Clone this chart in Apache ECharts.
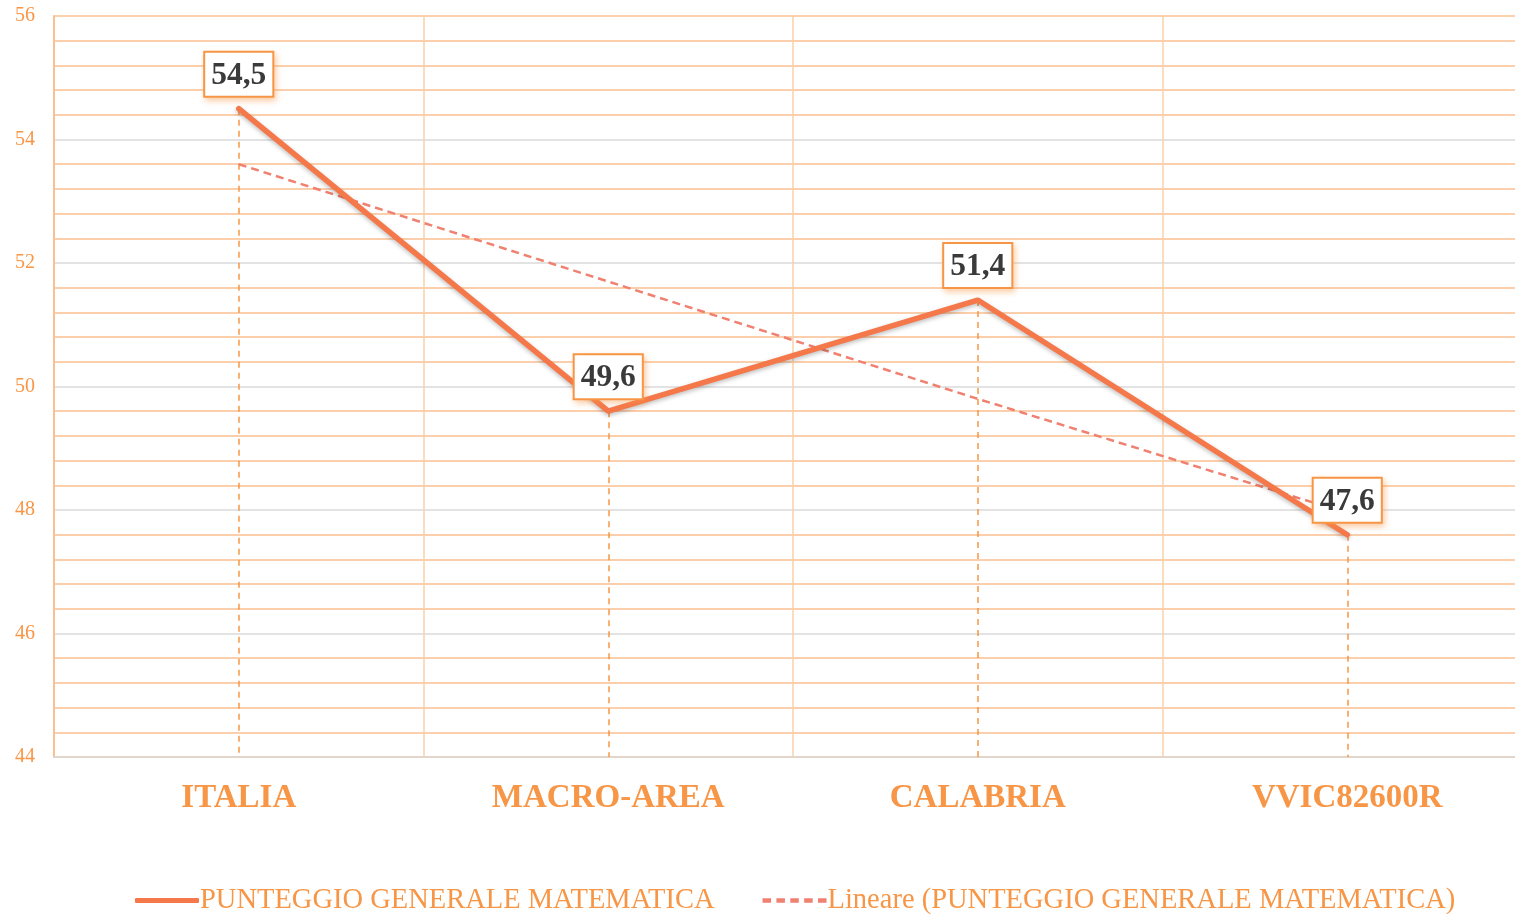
<!DOCTYPE html>
<html>
<head>
<meta charset="utf-8">
<script src="https://cdn.jsdelivr.net/npm/echarts@6/dist/echarts.min.js"></script>
<style>
  html, body { margin: 0; padding: 0; background: #fff; }
  #chart { width: 1515px; height: 915px; }
</style>
</head>
<body>
<div id="chart"></div>
<script>
// categorie e valori
const categories = ['ITALIA', 'MACRO-AREA', 'CALABRIA', 'VVIC82600R'];
const punteggio = [54.5, 49.6, 51.4, 47.6];
// linea di tendenza lineare
const tendenza = [53.6, 51.7, 49.8, 47.95];
const yTicks = [44, 46, 48, 50, 52, 54, 56];

const serieName = 'PUNTEGGIO GENERALE MATEMATICA';
const trendName = 'Lineare (PUNTEGGIO GENERALE MATEMATICA)';
const orange = '#F79646';
const serif = '"Liberation Serif", "Times New Roman", serif';

let chart = echarts.init(document.getElementById('chart'));

// linee verticali tratteggiate dai punti all'asse
const dropLines = punteggio.map((v, i) => [
  { coord: [i, v] },
  { coord: [i, yTicks[0]] }
]);

let option = {
  animation: false,
  grid: {
    left: 54, width: 1478, top: 16, bottom: 158,
    containLabel: false,
    outerBoundsMode: 'none'
  },
  legend: {
    top: 881,
    left: 130,
    itemWidth: 64,
    itemHeight: 5,
    itemGap: 48,
    textStyle: { fontFamily: serif, fontSize: 28.5, color: orange, padding: [0, 0, 0, -4] },
    data: [
      { name: serieName, icon: 'roundRect', itemStyle: { color: '#F4784A' } },
      {
        name: trendName,
        icon: 'path://M0,0h8v4h-8z M13,0h8v4h-8z M26,0h8v4h-8z M39,0h8v4h-8z M52,0h8v4h-8z',
        itemStyle: { color: '#F08070' }
      }
    ]
  },
  xAxis: {
    type: 'category',
    data: categories,
    boundaryGap: true,
    axisLine: { show: true, lineStyle: { color: '#E2D6CA', width: 2 } },
    axisTick: { show: false },
    axisLabel: {
      margin: 25,
      fontFamily: serif,
      fontSize: 33,
      fontWeight: 'bold',
      color: orange
    },
    splitLine: { show: true, lineStyle: { color: '#FAD0A8', width: 1.5 } }
  },
  yAxis: {
    type: 'value',
    min: 44,
    max: 56,
    interval: 2,
    axisLine: { show: true, lineStyle: { color: '#FAC090', width: 2 } },
    axisTick: { show: false },
    axisLabel: {
      margin: 19,
      fontFamily: serif,
      fontSize: 20,
      color: orange
    },
    splitLine: {
      show: true,
      lineStyle: {
        color: ['#E2D6CA', '#DADADA', '#DADADA', '#DADADA', '#DADADA', '#DADADA', '#FAC090'],
        width: 1.5
      }
    },
    minorTick: { show: false, splitNumber: 5 },
    minorSplitLine: { show: true, lineStyle: { color: '#FAC090', width: 1.5 } }
  },
  series: [
    {
      name: serieName,
      type: 'line',
      data: punteggio,
      symbol: 'none',
      z: 5,
      itemStyle: { color: '#F4784A' },
      lineStyle: {
        color: '#F4784A',
        width: 5.5,
        cap: 'round',
        shadowColor: 'rgba(0,0,0,0.25)',
        shadowBlur: 4,
        shadowOffsetY: 2
      }
    },
    {
      name: trendName,
      type: 'line',
      data: tendenza,
      symbol: 'none',
      z: 4,
      itemStyle: { color: '#F08070' },
      lineStyle: { color: '#F08070', width: 2.5, type: [8, 5] }
    },
    {
      // etichette dei valori e linee di proiezione
      name: 'etichette',
      type: 'scatter',
      data: punteggio,
      symbolSize: 0,
      itemStyle: { color: '#F4784A', opacity: 1 },
      z: 6,
      label: {
        show: true,
        position: 'top',
        distance: 13,
        formatter: p => String(p.value).replace('.', ','),
        fontFamily: serif,
        fontSize: 31.5,
        fontWeight: 'bold',
        color: '#3A3A3A',
        backgroundColor: '#fff',
        borderColor: '#F79646',
        borderWidth: 2,
        padding: [7, 6, 4, 6],
        shadowColor: 'rgba(247,150,70,0.4)',
        shadowBlur: 6,
        shadowOffsetX: 2,
        shadowOffsetY: 3
      },
      markLine: {
        silent: true,
        symbol: ['none', 'none'],
        label: { show: false },
        lineStyle: { color: '#F79646', type: [6, 5], width: 1.5 },
        z: 1,
        data: dropLines
      }
    }
  ]
};
chart.setOption(option);
</script>
</body>
</html>
